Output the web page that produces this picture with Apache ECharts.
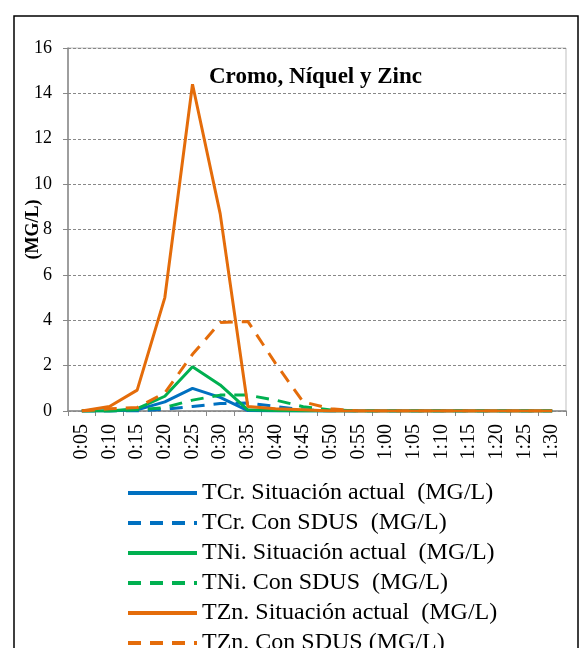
<!DOCTYPE html>
<html>
<head>
<meta charset="utf-8">
<script src="https://cdn.jsdelivr.net/npm/echarts@6/dist/echarts.min.js"></script>
<style>
html,body{margin:0;padding:0;background:#fff;}
#c{width:581px;height:648px;}
</style>
</head>
<body>
<div id="c"></div>
<script>
const categories = ['0:05','0:10','0:15','0:20','0:25','0:30','0:35','0:40','0:45','0:50','0:55','1:00','1:05','1:10','1:15','1:20','1:25','1:30'];
const yTicks = [0, 16, 2];
const tcrActual = [0,0,0.05,0.4,1.0,0.6,0.02,0,0,0,0,0,0,0,0,0,0,0];
const tcrSdus   = [0,0,0,0.08,0.2,0.33,0.35,0.2,0.05,0,0,0,0,0,0,0,0,0];
const tniActual = [0,0,0.1,0.65,1.95,1.15,0.05,0.02,0,0,0,0,0,0,0,0,0,0];
const tniSdus   = [0,0,0.05,0.15,0.48,0.7,0.7,0.48,0.19,0.05,0,0,0,0,0,0,0,0];
const tznActual = [0,0.2,0.92,5.0,14.4,8.7,0.2,0.1,0.05,0,0,0,0,0,0,0,0,0];
const tznSdus   = [0,0.1,0.15,0.8,2.5,3.9,3.95,2.1,0.4,0.1,0,0,0,0,0,0,0,0];
const names = ['TCr. Situación actual  (MG/L)','TCr. Con SDUS  (MG/L)','TNi. Situación actual  (MG/L)','TNi. Con SDUS  (MG/L)','TZn. Situación actual  (MG/L)','TZn. Con SDUS (MG/L)'];
const colors = ['#0070C0','#0070C0','#00B050','#00B050','#E46C0A','#E46C0A'];
const dataSets = [tcrActual,tcrSdus,tniActual,tniSdus,tznActual,tznSdus];

const font = 'Liberation Serif';
const chart = echarts.init(document.getElementById('c'), null, {renderer:'canvas'});
chart.setOption({
  animation:false,
  backgroundColor:'#fff',
  title:{text:'Cromo, Níquel y Zinc', left:204, top:61,
    textStyle:{fontFamily:font,fontSize:23,fontWeight:'bold',color:'#000'}},
  graphic:[{type:'rect',shape:{x:14,y:16,width:564,height:700},
    style:{fill:'none',stroke:'#000',lineWidth:1.5},silent:true}],
  grid:{left:68,right:15,top:48,bottom:237,show:true,borderColor:'#bfbfbf',borderWidth:1},
  legend:{orient:'vertical',left:121,top:476,height:400,itemWidth:69,itemHeight:14,itemGap:6,
    itemStyle:{opacity:0},
    lineStyle:{width:4},
    textStyle:{fontFamily:font,fontSize:24,color:'#000'},
    data:names},
  xAxis:{type:'category',data:categories,boundaryGap:true,
    axisLine:{lineStyle:{color:'#888',width:1.5}},
    axisTick:{show:true,interval:0,length:5,lineStyle:{color:'#888'}},
    axisLabel:{rotate:90,interval:0,margin:13,fontFamily:font,fontSize:20,color:'#000'}},
  yAxis:{type:'value',min:yTicks[0],max:yTicks[1],interval:yTicks[2],
    name:'(MG/L)',nameLocation:'middle',nameGap:26,nameMoveOverlap:false,
    nameTextStyle:{fontFamily:font,fontSize:18,fontWeight:'bold',color:'#000'},
    axisLine:{show:true,lineStyle:{color:'#888',width:1.5}},
    axisTick:{show:true,length:5,lineStyle:{color:'#888'}},
    axisLabel:{fontFamily:font,fontSize:18,color:'#000',margin:16},
    splitLine:{lineStyle:{color:'#888',type:[3,2]}}},
  series:dataSets.map((d,i)=>({
    name:names[i],type:'line',data:d,symbol:'none',
    lineStyle:{color:colors[i],width:3,type:(i%2===1)?[13,9]:'solid',cap:'butt'},
    itemStyle:{color:colors[i]}
  }))
});
</script>
</body>
</html>
